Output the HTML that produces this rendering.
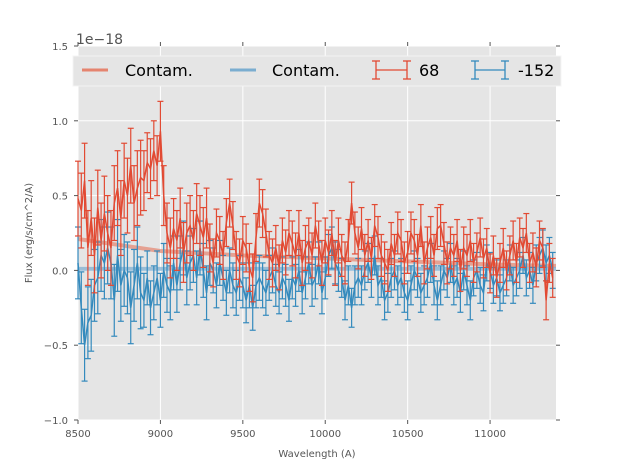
<!DOCTYPE html>
<html><head><meta charset="utf-8"><style>
body{margin:0;background:#fff;}
svg{display:block;font-family:"DejaVu Sans","Liberation Sans",sans-serif;}
</style></head><body>
<svg id="chart" width="617" height="467" viewBox="0 0 617 467" xmlns="http://www.w3.org/2000/svg">
<rect x="78" y="46" width="478" height="374" fill="#e5e5e5"/>
<g id="grid"></g>
<g id="series"></g>
<g id="axes"></g>
<text x="76" y="44" font-size="14" fill="#555">1e−18</text>
<text x="317" y="457" font-size="10" fill="#555" text-anchor="middle">Wavelength (A)</text>
<text transform="translate(32,233) rotate(-90)" font-size="10" fill="#555" text-anchor="middle">Flux (erg/s/cm^2/A)</text>
<g>
<rect x="73" y="56" width="488" height="30" fill="#e5e5e5" stroke="#f4f4f4" stroke-width="1"/>
<line x1="82" y1="70" x2="108" y2="70" stroke="#e5846f" stroke-width="3"/>
<text x="125" y="76" font-size="16" fill="#000">Contam.</text>
<line x1="230" y1="70" x2="256" y2="70" stroke="#7aadd0" stroke-width="3"/>
<text x="272" y="76" font-size="16" fill="#000">Contam.</text>
<g stroke="#e24a33" stroke-width="1.3"><line x1="376" y1="70" x2="407" y2="70"/><line x1="376" y1="61" x2="376" y2="79"/><line x1="407" y1="61" x2="407" y2="79"/><line x1="372" y1="61" x2="380" y2="61"/><line x1="372" y1="79" x2="380" y2="79"/><line x1="403" y1="61" x2="411" y2="61"/><line x1="403" y1="79" x2="411" y2="79"/></g>
<text x="419" y="76" font-size="16" fill="#000">68</text>
<g stroke="#348abd" stroke-width="1.3"><line x1="475" y1="70" x2="505" y2="70"/><line x1="475" y1="61" x2="475" y2="79"/><line x1="505" y1="61" x2="505" y2="79"/><line x1="471" y1="61" x2="479" y2="61"/><line x1="471" y1="79" x2="479" y2="79"/><line x1="501" y1="61" x2="509" y2="61"/><line x1="501" y1="79" x2="509" y2="79"/></g>
<text x="518" y="76" font-size="16" fill="#000">-152</text>
</g>
</svg>
<script>
const xTicks=[8500,9000,9500,10000,10500,11000];
const yTicks=[-1.0,-0.5,0.0,0.5,1.0,1.5];
const yTickLabels=["−1.0","−0.5","0.0","0.5","1.0","1.5"];
const xStart=8500, xStep=20;
const redFlux=[0.48,0.40,0.60,0.15,0.35,0.10,0.42,0.20,0.38,0.25,0.15,0.45,0.55,0.35,0.60,0.50,0.70,0.45,0.55,0.62,0.60,0.72,0.68,0.80,0.70,0.93,0.50,0.25,0.15,0.28,0.20,0.35,0.12,0.25,0.30,0.20,0.38,0.30,0.22,0.35,0.15,0.05,0.25,0.20,0.10,0.32,0.45,0.30,0.10,0.05,0.20,0.15,0.02,-0.05,0.22,0.45,0.38,0.25,0.10,0.05,0.15,0.02,0.20,0.12,0.25,0.18,0.10,0.25,0.05,0.15,0.20,0.10,0.30,0.18,0.05,0.20,0.12,0.25,0.05,0.20,0.10,0.05,0.20,0.45,0.25,0.15,0.28,0.10,0.20,0.08,0.30,0.22,0.10,0.05,0.00,0.18,0.10,0.25,0.20,0.05,0.12,0.25,0.20,0.10,0.30,0.05,0.15,0.22,0.10,0.28,0.30,0.18,0.05,0.15,0.10,0.20,0.00,0.15,0.10,0.20,0.05,0.12,0.22,0.08,0.15,-0.02,0.10,-0.05,0.05,0.15,0.00,0.10,0.20,0.05,0.22,0.15,0.25,0.05,0.12,0.02,0.20,0.15,-0.20,0.05,-0.05];
const blueFlux=[0.05,-0.25,-0.50,-0.35,-0.30,-0.10,-0.05,0.10,0.05,0.15,0.05,-0.20,0.10,-0.10,0.00,-0.05,-0.25,-0.10,0.05,-0.15,-0.20,-0.05,-0.25,-0.15,-0.05,-0.20,0.00,-0.10,-0.15,0.05,-0.10,0.05,0.15,-0.05,0.05,0.10,-0.05,0.15,0.00,-0.15,0.05,0.00,-0.10,0.05,-0.05,-0.15,0.00,-0.10,-0.15,-0.05,-0.10,-0.20,-0.10,-0.25,-0.10,-0.05,-0.10,-0.15,-0.05,0.00,-0.10,-0.15,-0.05,-0.10,-0.20,-0.05,-0.10,0.00,-0.15,-0.05,0.05,-0.10,-0.05,0.05,-0.15,-0.05,0.10,0.15,0.05,0.00,-0.05,-0.20,-0.10,-0.25,-0.10,-0.05,-0.10,0.00,0.05,-0.05,0.10,-0.10,-0.05,-0.20,-0.15,-0.05,0.00,-0.10,-0.05,-0.15,-0.20,-0.10,0.00,-0.05,-0.15,-0.10,-0.05,0.05,-0.10,-0.20,-0.10,0.00,-0.05,0.05,-0.10,-0.05,-0.15,0.00,-0.10,-0.20,-0.05,0.00,-0.10,-0.15,0.05,0.00,-0.10,-0.05,-0.15,-0.10,-0.05,0.05,-0.10,-0.05,0.00,0.10,-0.05,0.00,-0.10,0.05,0.10,0.15,0.05,0.10,0.00];
const redErrBySegment=[0.25,0.20,0.16,0.15,0.14,0.14,0.13,0.13];
const blueErrBySegment=[0.24,0.18,0.15,0.14,0.13,0.13,0.12,0.12];
const redContamX=[8500,9000,9500,10000,10500,11000,11400];
const redContamY=[0.21,0.13,0.10,0.08,0.06,0.04,0.03];
const blueContamX=[8500,11400];
const blueContamY=[0.01,0.01];

const NS="http://www.w3.org/2000/svg";
const X0=78,X1=556,Y0=420,Y1=46,XMIN=8500,XMAX=11400,YMIN=-1,YMAX=1.5;
function sx(v){return X0+(v-XMIN)/(XMAX-XMIN)*(X1-X0);}
function sy(v){return Y0-(v-YMIN)/(YMAX-YMIN)*(Y0-Y1);}
function mk(tag,attrs,parent){const e=document.createElementNS(NS,tag);for(const k in attrs)e.setAttribute(k,attrs[k]);parent.appendChild(e);return e;}
const grid=document.getElementById('grid'),axes=document.getElementById('axes'),series=document.getElementById('series');
xTicks.forEach(t=>{
  const x=sx(t);
  const g=mk('line',{x1:x,x2:x,y1:Y1,y2:Y0,stroke:'#fff','stroke-width':1},grid);
  
  
  mk('line',{x1:x,x2:x,y1:Y1,y2:Y1-4,stroke:'#555'},axes);
  mk('line',{x1:x,x2:x,y1:Y0,y2:Y0+4,stroke:'#555'},axes);
  const tx=mk('text',{x:x,y:Y0+17,'font-size':10,fill:'#555','text-anchor':'middle'},axes);
  tx.textContent=t;
  
  
});
yTicks.forEach((t,i)=>{
  const y=sy(t);
  const g=mk('line',{x1:X0,x2:X1,y1:y,y2:y,stroke:'#fff','stroke-width':1},grid);
  
  
  mk('line',{x1:X0,x2:X0-4,y1:y,y2:y,stroke:'#555'},axes);
  mk('line',{x1:X1,x2:X1+4,y1:y,y2:y,stroke:'#555'},axes);
  const tx=mk('text',{x:X0-10,y:y+4,'font-size':10,fill:'#555','text-anchor':'end'},axes);
  tx.textContent=yTickLabels[i];
  
  
});
function drawContam(xs,ys,color,name){
  const p=mk('polyline',{points:xs.map((x,i)=>sx(x)+','+sy(ys[i])).join(' '),fill:'none',stroke:color,'stroke-width':4,'stroke-opacity':0.7},series);
  
  
}
function drawErr(vals,errs,color,name){
  const g=mk('g',{stroke:color,'stroke-width':1.2,fill:'none'},series);
  
  
  vals.forEach((v,i)=>{
    const x=sx(xStart+i*xStep);
    if(x>X1+0.5)return;
    const e=errs[Math.min(errs.length-1,Math.floor(i/20))];
    const a=sy(v+e),b=sy(v-e);
    mk('line',{x1:x,x2:x,y1:a,y2:b},g);
    mk('line',{x1:x-3,x2:x+3,y1:a,y2:a},g);
    mk('line',{x1:x-3,x2:x+3,y1:b,y2:b},g);
  });
  const pts=vals.map((v,i)=>[xStart+i*xStep,v]).filter(p=>p[0]<=XMAX).map(p=>sx(p[0])+','+sy(p[1])).join(' ');
  const l=mk('polyline',{points:pts,fill:'none',stroke:color,'stroke-width':1.5},series);
  
  
}
drawContam(redContamX,redContamY,'#e5846f','red-contam-line');
drawContam(blueContamX,blueContamY,'#7aadd0','blue-contam-line');
drawErr(blueFlux,blueErrBySegment,'#348abd','series-minus152');
drawErr(redFlux,redErrBySegment,'#e24a33','series-68');
</script>
</body></html>
